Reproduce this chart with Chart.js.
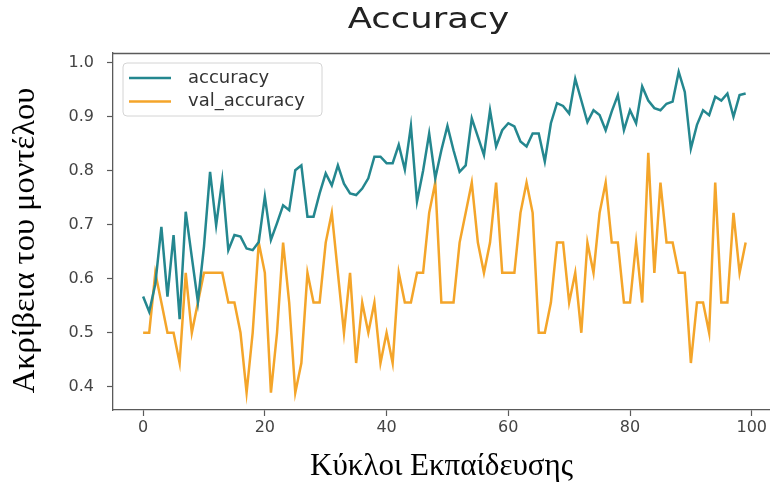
<!DOCTYPE html>
<html>
<head>
<meta charset="utf-8">
<script src="https://cdn.jsdelivr.net/npm/chart.js@4/dist/chart.umd.min.js"></script>
<style>
  html, body { margin: 0; padding: 0; background: #ffffff; }
  #wrap { width: 770px; height: 486px; }
</style>
</head>
<body>
<div id="wrap"><canvas id="c" width="770" height="486"></canvas></div>
<script>
// Training history: accuracy per epoch
const accuracy = [
  0.567, 0.539, 0.59, 0.696, 0.567, 0.681, 0.525, 0.724, 0.64, 0.557,
  0.66, 0.798, 0.699, 0.783, 0.653, 0.681, 0.678, 0.656, 0.653, 0.668,
  0.752, 0.672, 0.703, 0.736, 0.727, 0.801, 0.81, 0.715, 0.715, 0.758,
  0.795, 0.773, 0.81, 0.776, 0.758, 0.755, 0.767, 0.786, 0.826, 0.826,
  0.814, 0.814, 0.848, 0.802, 0.883, 0.743, 0.80, 0.869, 0.786, 0.838,
  0.883, 0.838, 0.798, 0.81, 0.897, 0.863, 0.829, 0.912, 0.845, 0.875,
  0.888, 0.882, 0.854, 0.845, 0.869, 0.869, 0.817, 0.888, 0.925, 0.92,
  0.906, 0.97, 0.93, 0.89, 0.912, 0.903, 0.875, 0.91, 0.94, 0.875,
  0.912, 0.888, 0.956, 0.93, 0.916, 0.912, 0.924, 0.928, 0.983, 0.946,
  0.841, 0.885, 0.912, 0.903, 0.937, 0.93, 0.943, 0.9, 0.94, 0.943
];

// Validation accuracy per epoch
const valAccuracy = [
  0.5, 0.5, 0.611, 0.556, 0.5, 0.5, 0.444, 0.611, 0.5, 0.556,
  0.611, 0.611, 0.611, 0.611, 0.556, 0.556, 0.5, 0.389, 0.5, 0.667,
  0.611, 0.389, 0.5, 0.667, 0.556, 0.389, 0.444, 0.611, 0.556, 0.556,
  0.667, 0.722, 0.611, 0.5, 0.611, 0.444, 0.556, 0.5, 0.556, 0.444,
  0.5, 0.444, 0.611, 0.556, 0.556, 0.611, 0.611, 0.722, 0.778, 0.556,
  0.556, 0.556, 0.667, 0.722, 0.778, 0.667, 0.611, 0.667, 0.778, 0.611,
  0.611, 0.611, 0.722, 0.778, 0.722, 0.5, 0.5, 0.556, 0.667, 0.667,
  0.556, 0.611, 0.5, 0.667, 0.611, 0.722, 0.778, 0.667, 0.667, 0.556,
  0.556, 0.667, 0.556, 0.833, 0.611, 0.778, 0.667, 0.667, 0.611, 0.611,
  0.444, 0.556, 0.556, 0.5, 0.778, 0.556, 0.556, 0.722, 0.611, 0.667
];

const seriesNames = ['accuracy', 'val_accuracy'];
const xTickValues = [0, 20, 40, 60, 80, 100];
const yTickValues = [0.4, 0.5, 0.6, 0.7, 0.8, 0.9, 1.0];
const chartTitle = 'Accuracy';
const xAxisTitle = 'Κύκλοι Εκπαίδευσης';
const yAxisTitle = 'Ακρίβεια του μοντέλου';

const epochs = accuracy.map((_, i) => i);
const toPoints = (values) => values.map((v, i) => ({ x: epochs[i], y: v }));

const TEAL = '#24878f';
const ORANGE = '#f4a52a';
const SPINE = '#5a5a5a';
const TICK_TEXT = '#444444';

// Chart heading, centred over the axes and slightly widened
const headingPlugin = {
  id: 'heading',
  afterDraw(chart) {
    const { ctx, chartArea } = chart;
    ctx.save();
    ctx.translate((chartArea.left + chartArea.right) / 2 - 13, 28);
    ctx.scale(1.22, 1);
    ctx.font = '29px "DejaVu Sans"';
    ctx.fillStyle = '#222222';
    ctx.textAlign = 'center';
    ctx.textBaseline = 'alphabetic';
    ctx.fillText(chartTitle, 0, 0);
    ctx.restore();
  }
};

// Vertical axis caption, rotated, a little below the plot's mid-height
const yCaptionPlugin = {
  id: 'yCaption',
  afterDraw(chart) {
    const { ctx, chartArea } = chart;
    ctx.save();
    ctx.translate(25, (chartArea.top + chartArea.bottom) / 2 + 9);
    ctx.rotate(-Math.PI / 2);
    ctx.font = '32.5px "Liberation Serif"';
    ctx.fillStyle = '#000000';
    ctx.textAlign = 'center';
    ctx.textBaseline = 'middle';
    ctx.fillText(yAxisTitle, 0, 0);
    ctx.restore();
  }
};

// Legend box drawn inside the plot, upper-left corner
const insetLegend = {
  id: 'insetLegend',
  afterDatasetsDraw(chart) {
    const { ctx, chartArea } = chart;
    const x = chartArea.left + 10;
    const y = chartArea.top + 10;
    const w = 199, h = 53, r = 4;
    ctx.save();
    ctx.beginPath();
    ctx.moveTo(x + r, y);
    ctx.lineTo(x + w - r, y);
    ctx.quadraticCurveTo(x + w, y, x + w, y + r);
    ctx.lineTo(x + w, y + h - r);
    ctx.quadraticCurveTo(x + w, y + h, x + w - r, y + h);
    ctx.lineTo(x + r, y + h);
    ctx.quadraticCurveTo(x, y + h, x, y + h - r);
    ctx.lineTo(x, y + r);
    ctx.quadraticCurveTo(x, y, x + r, y);
    ctx.closePath();
    ctx.fillStyle = 'rgba(255,255,255,0.85)';
    ctx.fill();
    ctx.lineWidth = 1;
    ctx.strokeStyle = '#d4d4d4';
    ctx.stroke();
    chart.data.datasets.forEach((ds, i) => {
      const cy = y + 15 + i * 23.5;
      ctx.beginPath();
      ctx.moveTo(x + 6, cy);
      ctx.lineTo(x + 48, cy);
      ctx.lineWidth = 2.5;
      ctx.strokeStyle = ds.borderColor;
      ctx.stroke();
      ctx.fillStyle = '#333333';
      ctx.font = '18px "DejaVu Sans"';
      ctx.textBaseline = 'middle';
      ctx.textAlign = 'left';
      ctx.fillText(ds.label, x + 65, cy);
    });
    ctx.restore();
  }
};

// Top spine of the axes frame
const topSpine = {
  id: 'topSpine',
  afterDraw(chart) {
    const { ctx, chartArea } = chart;
    ctx.save();
    ctx.beginPath();
    ctx.moveTo(chartArea.left, chartArea.top + 0.5);
    ctx.lineTo(chartArea.right, chartArea.top + 0.5);
    ctx.lineWidth = 1.3;
    ctx.strokeStyle = SPINE;
    ctx.stroke();
    ctx.restore();
  }
};

new Chart(document.getElementById('c'), {
  type: 'line',
  data: {
    datasets: [
      {
        label: seriesNames[0],
        data: toPoints(accuracy),
        borderColor: TEAL,
        backgroundColor: TEAL,
        borderWidth: 2.5,
        pointRadius: 0,
        tension: 0,
        fill: false
      },
      {
        label: seriesNames[1],
        data: toPoints(valAccuracy),
        borderColor: ORANGE,
        backgroundColor: ORANGE,
        borderWidth: 2.5,
        pointRadius: 0,
        tension: 0,
        fill: false
      }
    ]
  },
  options: {
    responsive: false,
    devicePixelRatio: 1,
    animation: false,
    layout: { padding: { left: 0, right: 0, top: 53, bottom: 0 } },
    plugins: {
      legend: { display: false },
      tooltip: { enabled: false },
      title: { display: false }
    },
    scales: {
      x: {
        type: 'linear',
        min: -4.95,
        max: 103,
        afterBuildTicks: (scale) => { scale.ticks = xTickValues.map(v => ({ value: v })); },
        afterFit: (scale) => { scale.height = 76; },
        grid: { drawOnChartArea: false, drawTicks: true, tickLength: 6, tickColor: SPINE, tickWidth: 1.2 },
        border: { display: true, color: SPINE, width: 1.3 },
        ticks: {
          color: TICK_TEXT,
          padding: 2,
          maxRotation: 0,
          font: { family: '"DejaVu Sans"', size: 16 },
          callback: (v) => String(v)
        },
        title: {
          display: true,
          text: xAxisTitle,
          color: '#000000',
          font: { family: '"Liberation Serif"', size: 31, lineHeight: 1.2 },
          padding: { top: 0, bottom: 0.5 }
        }
      },
      y: {
        type: 'linear',
        min: 0.357,
        max: 1.018,
        afterBuildTicks: (scale) => { scale.ticks = yTickValues.map(v => ({ value: v })); },
        afterFit: (scale) => { scale.width = 113; },
        grid: { drawOnChartArea: false, drawTicks: true, tickLength: 6, tickColor: SPINE, tickWidth: 1.2 },
        border: { display: true, color: SPINE, width: 1.3 },
        ticks: {
          color: TICK_TEXT,
          padding: 13,
          font: { family: '"DejaVu Sans"', size: 16 },
          callback: (v) => Number(v).toFixed(1)
        },
        title: { display: false }
      }
    }
  },
  plugins: [headingPlugin, yCaptionPlugin, insetLegend, topSpine]
});
</script>
</body>
</html>
